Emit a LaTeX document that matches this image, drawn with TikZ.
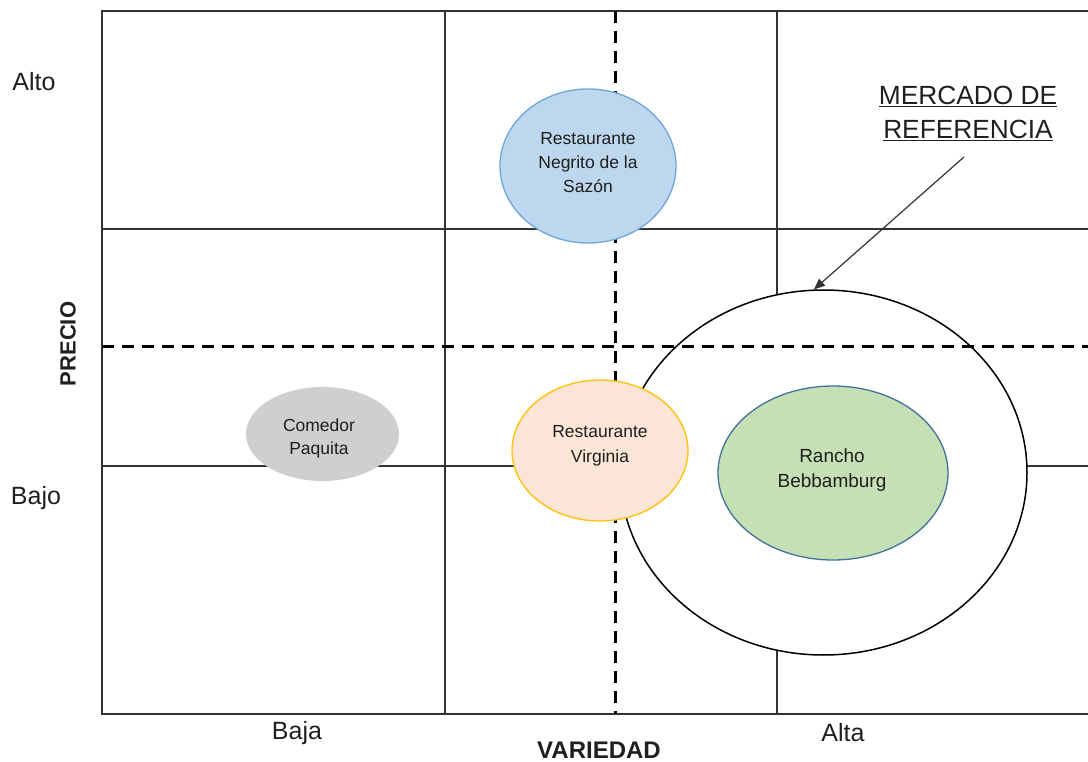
\documentclass[tikz,border=0pt]{standalone}
\usepackage{fontspec}
\setmainfont{Liberation Sans}
\usetikzlibrary{shapes.geometric,arrows.meta}
\definecolor{txt}{HTML}{1F1F1F}
\definecolor{gridc}{HTML}{333333}
\definecolor{blueF}{HTML}{BDD7EE}
\definecolor{blueD}{HTML}{6FA5D8}
\definecolor{peachF}{HTML}{FBE5D6}
\definecolor{goldD}{HTML}{FFC000}
\definecolor{greenF}{HTML}{C5E0B4}
\definecolor{greenD}{HTML}{41719C}
\definecolor{grayF}{HTML}{D0CECE}
\tikzset{
  gridline/.style={draw=gridc, line width=1.3pt},
  frameline/.style={draw=gridc, line width=1.8pt},
  dashline/.style={draw=black, line width=3pt, dash pattern=on 12pt off 8pt},
  firm/.style={ellipse, inner sep=0pt, line width=1.3pt},
  firmtext/.style={align=center, text=txt, inner sep=0pt},
  axislab/.style={text=txt, font=\fontsize{25}{28}\selectfont, inner sep=0pt},
  axistitle/.style={text=txt, font=\bfseries\fontsize{24}{28}\selectfont, inner sep=0pt},
}
\begin{document}
\begin{tikzpicture}[x=1pt,y=-1pt]
\useasboundingbox (0,0) rectangle (1088,762);
% solid grid
\draw[gridline] (445,11) -- (445,714);
\draw[gridline] (777,11) -- (777,714);
\draw[gridline] (102,229) -- (1088,229);
\draw[gridline] (102,466) -- (1088,466);
\draw[frameline] (1088,11) -- (102,11) -- (102,714) -- (1088,714);
% reference market circle
\node[ellipse, draw=black, fill=white, line width=1.5pt, minimum width=407pt, minimum height=365pt, inner sep=0pt] (big) at (823.5,472.5) {};
% dashed axes
\draw[dashline] (615,11) -- (615,714);
\draw[dashline] (102,347) -- (1088,347);
% firms
\node[firm, fill=blueF, draw=blueD, minimum width=176pt, minimum height=154pt] (negrito) at (588,166) {};
\node[firmtext, font=\fontsize{17.5}{24}\selectfont] (negritoT) at (588,163) {Restaurante\\Negrito de la\\Sazón};
\node[firm, fill=peachF, draw=goldD, minimum width=176pt, minimum height=141pt] (virginia) at (600,450.5) {};
\node[firmtext, font=\fontsize{17.5}{25}\selectfont] (virginiaT) at (600,446) {Restaurante\\Virginia};
\node[firm, fill=greenF, draw=greenD, minimum width=230pt, minimum height=174pt] (rancho) at (833,473) {};
\node[firmtext, font=\fontsize{19}{25}\selectfont] (ranchoT) at (832,470) {Rancho\\Bebbamburg};
\node[firm, fill=grayF, draw=none, minimum width=153pt, minimum height=94pt] (paquita) at (322.5,434) {};
\node[firmtext, font=\fontsize{17.5}{23}\selectfont] (paquitaT) at (319,438) {Comedor\\Paquita};
% axis labels
\node[axislab] (alto) at (34,82) {Alto};
\node[axislab] (bajo) at (36,498) {Bajo};
\node[axistitle, rotate=90, font=\bfseries\fontsize{22}{26}\selectfont] (precio) at (68,344) {PRECIO};
\node[axislab] (baja) at (297,733) {Baja};
\node[axislab] (alta) at (843,733) {Alta};
\node[axistitle] (variedad) at (599,750) {VARIEDAD};
% annotation
\node[text=txt, font=\fontsize{26.3}{34}\selectfont, align=center, inner sep=0pt] (merc) at (968,113) {\underline{MERCADO DE}\\\underline{REFERENCIA}};
\coordinate (arrS) at (964,157);
\draw[-{Triangle[length=11pt,width=9pt]}, line width=1.2pt, draw=gridc] (arrS) -- (big.93);
\end{tikzpicture}
\end{document}
